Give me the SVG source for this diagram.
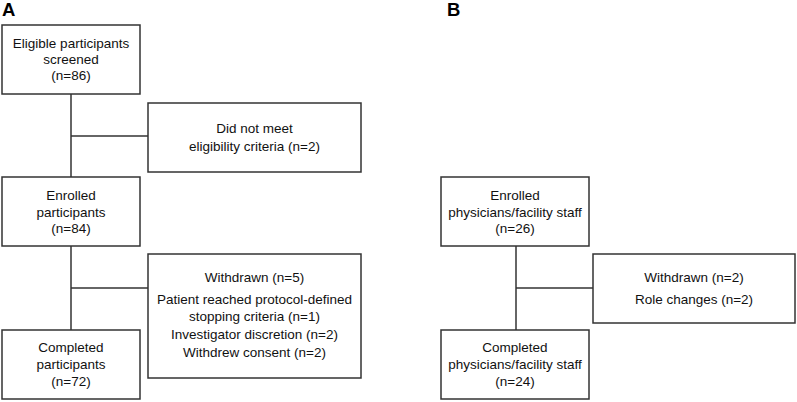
<svg xmlns="http://www.w3.org/2000/svg" width="797" height="402" viewBox="0 0 797 402">
<style>
.box{fill:#fff;stroke:#333;stroke-width:1.5}
.ln{stroke:#333;stroke-width:1.5;fill:none}
text{font-family:"Liberation Sans",Arial,sans-serif;font-size:13.5px;fill:#111;text-anchor:middle}
.lab{font-size:18.5px;font-weight:bold;text-anchor:start;fill:#000}
</style>
<rect width="797" height="402" fill="#fff"/>
<text class="lab" x="2" y="15.8">A</text>
<text class="lab" x="447" y="15.8">B</text>
<g id="connectors">
<line class="ln" x1="71" y1="94" x2="71" y2="177"/>
<line class="ln" x1="71" y1="136" x2="148" y2="136"/>
<line class="ln" x1="71" y1="246" x2="71" y2="330"/>
<line class="ln" x1="71" y1="288" x2="148" y2="288"/>
<line class="ln" x1="516" y1="246" x2="516" y2="330"/>
<line class="ln" x1="516" y1="288" x2="593" y2="288"/>
</g>
<g id="a-screened">
<rect class="box" x="2" y="25" width="138" height="69"/>
<text x="71" y="48">Eligible participants</text>
<text x="71" y="64">screened</text>
<text x="71" y="80">(n=86)</text>
</g>
<g id="a-excluded">
<rect class="box" x="148" y="103" width="213" height="69"/>
<text x="254.5" y="133">Did not meet</text>
<text x="254.5" y="151">eligibility criteria (n=2)</text>
</g>
<g id="a-enrolled">
<rect class="box" x="2" y="177" width="138" height="69"/>
<text x="71" y="200">Enrolled</text>
<text x="71" y="217">participants</text>
<text x="71" y="233">(n=84)</text>
</g>
<g id="a-withdrawn">
<rect class="box" x="148" y="254" width="213" height="124"/>
<text x="254.5" y="282">Withdrawn (n=5)</text>
<text x="254.5" y="304">Patient reached protocol-defined</text>
<text x="254.5" y="321">stopping criteria (n=1)</text>
<text x="254.5" y="339">Investigator discretion (n=2)</text>
<text x="254.5" y="357">Withdrew consent (n=2)</text>
</g>
<g id="a-completed">
<rect class="box" x="2" y="330" width="138" height="69"/>
<text x="71" y="352">Completed</text>
<text x="71" y="369">participants</text>
<text x="71" y="386">(n=72)</text>
</g>
<g id="b-enrolled">
<rect class="box" x="441" y="177" width="148" height="69"/>
<text x="515" y="200">Enrolled</text>
<text x="515" y="217">physicians/facility staff</text>
<text x="515" y="233">(n=26)</text>
</g>
<g id="b-withdrawn">
<rect class="box" x="593" y="254" width="202" height="69"/>
<text x="694" y="282">Withdrawn (n=2)</text>
<text x="694" y="304">Role changes (n=2)</text>
</g>
<g id="b-completed">
<rect class="box" x="441" y="330" width="148" height="69"/>
<text x="515" y="352">Completed</text>
<text x="515" y="369">physicians/facility staff</text>
<text x="515" y="386">(n=24)</text>
</g>
</svg>
